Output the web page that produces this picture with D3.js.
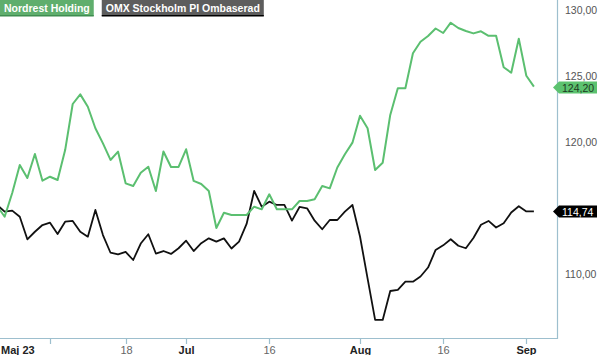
<!DOCTYPE html>
<html>
<head>
<meta charset="utf-8">
<script src="https://cdn.jsdelivr.net/npm/d3@7"></script>
<style>
  body { margin: 0; background: #fff; }
  svg { display: block; font-family: Arial, "Liberation Sans", sans-serif; }
</style>
</head>
<body>
<div id="chart"></div>
<script>
// series names
var seriesNames = ["Nordrest Holding", "OMX Stockholm PI Ombaserad"];

// Nordrest Holding, one value per trading day
var nordrest = [
  115.15, 114.34, 116.14, 118.26, 117.27, 119.09, 117.07, 117.37, 117.12, 119.39,
  122.88, 123.61, 122.67, 121.04, 119.90, 118.64, 119.27, 116.87, 116.67, 117.67,
  118.13, 116.29, 119.28, 118.11, 118.11, 119.45, 117.05, 116.82, 116.29, 113.48,
  114.64, 114.47, 114.47, 114.47, 115.10, 114.90, 116.04, 114.90, 114.90, 114.90,
  115.53, 115.53, 115.66, 116.67, 116.49, 118.07, 119.07, 119.95, 121.99, 121.04,
  117.88, 118.43, 122.05, 124.07, 124.07, 126.72, 127.60, 128.03, 128.60, 128.26,
  129.04, 128.64, 128.41, 128.23, 128.39, 128.05, 128.05, 125.66, 125.25, 127.83,
  125.02, 124.20
];

// OMX Stockholm PI, rebased to Nordrest start
var omx = [
  115.23, 114.72, 114.80, 114.34, 112.63, 113.20, 113.71, 113.89, 113.03, 113.96,
  114.02, 113.20, 112.83, 114.85, 112.95, 111.61, 111.49, 111.67, 111.06, 112.31,
  113.01, 111.55, 111.74, 111.52, 111.95, 112.52, 111.74, 112.33, 112.70, 112.45,
  112.70, 111.93, 112.45, 113.79, 116.29, 115.10, 115.48, 115.23, 115.23, 114.04,
  115.08, 114.98, 114.04, 113.39, 114.09, 114.09, 114.72, 115.23, 112.84, 109.67,
  106.52, 106.52, 108.71, 108.79, 109.42, 109.42, 109.81, 110.49, 111.82, 112.17,
  112.63, 112.14, 111.95, 112.73, 113.73, 114.02, 113.52, 113.84, 114.66, 115.13,
  114.74, 114.74
];

// x axis: tick positions (trading-day index) and labels
var xTickIdx = [7, 17, 25, 36, 48, 59, 70];
var xTickLabels = ["", "18", "Jul", "16", "Aug", "16", "Sep"];
var xTickMonth = [false, false, true, false, true, false, true];
var startLabel = "Maj 23";

// y axis ticks
var yTicks = [110, 120, 125, 130];

var W = 600, H = 355;
var plotW = 557, plotH = 338;
var green = "#5bbf70", black = "#111";
var axisCol = "#9dbfce";

var svg = d3.select("#chart").append("svg")
  .attr("width", W).attr("height", H);

var x = d3.scaleLinear().domain([0, nordrest.length - 1]).range([-2.9, 533.9]);
var y = d3.scaleLinear().domain([105.15, 130.76]).range([plotH, 0]);

svg.append("defs").append("clipPath").attr("id", "clip")
  .append("rect").attr("x", 0).attr("y", 0).attr("width", plotW).attr("height", plotH);

// frame: bottom + right
svg.append("line").attr("x1", 0).attr("x2", plotW).attr("y1", plotH + 0.5).attr("y2", plotH + 0.5)
  .attr("stroke", axisCol).attr("stroke-width", 1.2);
svg.append("line").attr("x1", plotW + 0.5).attr("x2", plotW + 0.5).attr("y1", 0).attr("y2", plotH + 1)
  .attr("stroke", axisCol).attr("stroke-width", 1.2);

// x ticks
var xAxis = svg.append("g");
xTickIdx.forEach(function(d, i) {
  var px = Math.round(x(d)) + 0.5;
  xAxis.append("line").attr("x1", px).attr("x2", px).attr("y1", plotH).attr("y2", plotH + 6)
    .attr("stroke", axisCol).attr("stroke-width", 1.2);
  xAxis.append("text").attr("x", px).attr("y", 354)
    .attr("text-anchor", "middle")
    .attr("font-size", 11)
    .attr("font-weight", xTickMonth[i] ? "bold" : "normal")
    .attr("fill", xTickMonth[i] ? "#222" : "#666")
    .text(xTickLabels[i]);
});
xAxis.append("text").attr("x", 1).attr("y", 354)
  .attr("font-size", 11).attr("font-weight", "bold").attr("fill", "#222")
  .text(startLabel);

// y tick labels on the right
svg.append("g").selectAll("text").data(yTicks).enter().append("text")
  .attr("x", 565).attr("y", function(d) { return y(d) + 4; })
  .attr("font-size", 10.5).attr("fill", "#555")
  .text(function(d) { return d3.format(".2f")(d).replace(".", ","); });

// lines
var line = d3.line().x(function(d, i) { return x(i); }).y(function(d) { return y(d); });
var plot = svg.append("g").attr("clip-path", "url(#clip)");
plot.append("path").datum(omx).attr("d", line)
  .attr("fill", "none").attr("stroke", black).attr("stroke-width", 1.8).attr("stroke-linejoin", "round");
plot.append("path").datum(nordrest).attr("d", line)
  .attr("fill", "none").attr("stroke", green).attr("stroke-width", 2).attr("stroke-linejoin", "round");

// last value markers
function marker(v, bg, fg) {
  var yc = Math.round(y(v)) + 0.5;
  svg.append("path")
    .attr("d", "M" + (plotW - 4) + "," + yc + " L" + (plotW + 2) + "," + (yc - 6) + " L597," + (yc - 6) +
      " L597," + (yc + 6) + " L" + (plotW + 2) + "," + (yc + 6) + " Z")
    .attr("fill", bg);
  svg.append("text").attr("x", 562).attr("y", yc + 4)
    .attr("font-size", 10.5).attr("fill", fg)
    .text(d3.format(".2f")(v).replace(".", ","));
}
marker(nordrest[nordrest.length - 1], "#5cc26f", "#1d3a22");
marker(omx[omx.length - 1], "#000", "#fff");

// legend boxes
var leg = svg.append("g");
var lx = 0;
var legBg = ["#5fae6d", "#5d5d5d"], legBorder = ["#3f8d50", "#000"];
seriesNames.forEach(function(name, i) {
  var t = leg.append("text").attr("x", lx + 4).attr("y", 12)
    .attr("font-size", 10.5).attr("font-weight", "bold").attr("fill", "#fff").text(name);
  var w = t.node().getComputedTextLength() + 8;
  leg.insert("rect", "text").attr("x", lx).attr("y", 0).attr("width", w).attr("height", 16).attr("fill", legBg[i]);
  leg.insert("rect", "text").attr("x", lx).attr("y", 15).attr("width", w).attr("height", 1.5).attr("fill", legBorder[i]);
  lx += w + 8;
});
</script>
</body>
</html>
